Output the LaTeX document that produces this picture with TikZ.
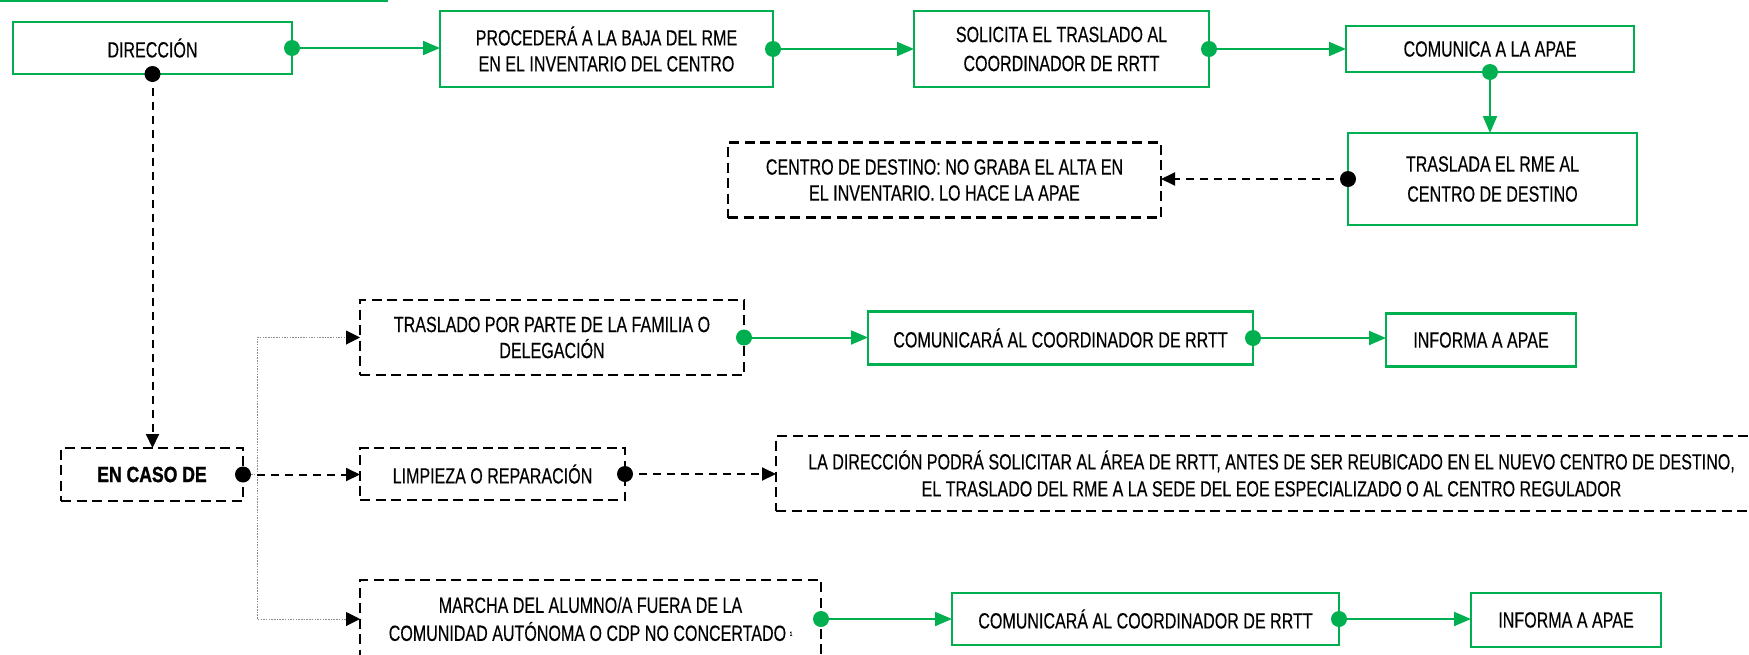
\documentclass[tikz,border=0pt]{standalone}
\usepackage{fontspec}
\setmainfont[FakeStretch=0.73,FakeBold=0.35]{Liberation Sans}
\newfontfamily\bcond[FakeStretch=0.8,FakeBold=1.2]{Liberation Sans}
\usetikzlibrary{arrows.meta}
\definecolor{gr}{HTML}{00B050}
\definecolor{dotgray}{HTML}{8C8C8C}
\begin{document}
\begin{tikzpicture}[x=1pt,y=-1pt,
  base/.style={rectangle,inner sep=0pt,outer sep=0pt,align=center,font=\fontsize{22}{26}\selectfont},
  gbox/.style={base,draw=gr,line width=2.8pt},
  dbox/.style={base,draw=black,line width=2.6pt,dash pattern=on 10pt off 5.5pt},
  garrow/.style={draw=gr,line width=2pt,-{Triangle[length=17pt,width=14pt]}},
  darrow/.style={draw=black,line width=2pt,dash pattern=on 8pt off 6pt,-{Triangle[length=14pt,width=13pt]}},
  parrow/.style={draw=dotgray,line width=1pt,dash pattern=on 1.5pt off 1.2pt,-{Triangle[length=14pt,width=14pt,fill=black,color=black]}},
  gdot/.style={circle,fill=gr,inner sep=0pt,minimum size=16pt},
  kdot/.style={circle,fill=black,inner sep=0pt,minimum size=16pt}]
\useasboundingbox (0,0) rectangle (1749,654);
\draw[gr,line width=1.6pt] (0,0.8) -- (388,0.8);
% top row
\node[gbox,minimum width=279pt,minimum height=52pt] (dir) at (152.5,48) {DIRECCIÓN};
\node[gbox,minimum width=333pt,minimum height=76pt] (proc) at (606.5,49) {PROCEDERÁ A LA BAJA DEL RME\\EN EL INVENTARIO DEL CENTRO};
\node[gbox,minimum width=295pt,minimum height=76pt,font=\fontsize{22}{29}\selectfont] (sol) at (1061.5,49) {SOLICITA EL TRASLADO AL\\COORDINADOR DE RRTT};
\node[gbox,minimum width=288pt,minimum height=46pt] (com) at (1490,49) {COMUNICA A LA APAE};
\node[gbox,minimum width=289pt,minimum height=92pt,font=\fontsize{22}{30}\selectfont] (tras) at (1492.5,179) {TRASLADA EL RME AL\\CENTRO DE DESTINO};
\node[dbox,minimum width=433pt,minimum height=75pt] (cen) at (944.5,180) {CENTRO DE DESTINO: NO GRABA EL ALTA EN\\EL INVENTARIO. LO HACE LA APAE};
% en caso de
\node[dbox,minimum width=182pt,minimum height=53pt,font=\bcond\bfseries\fontsize{22}{26}\selectfont] (caso) at (152,474.5) {EN CASO DE};
\node[dbox,minimum width=384pt,minimum height=75pt] (fam) at (552,337.5) {TRASLADO POR PARTE DE LA FAMILIA O\\DELEGACIÓN};
\node[dbox,minimum width=265pt,minimum height=52pt] (lim) at (492.5,474) {LIMPIEZA O REPARACIÓN};
\node[dbox,minimum width=991pt,minimum height=75pt,font=\fontsize{22}{27}\selectfont] (ladir) at (1271.5,473.5) {LA DIRECCIÓN PODRÁ SOLICITAR AL ÁREA DE RRTT, ANTES DE SER REUBICADO EN EL NUEVO CENTRO DE DESTINO,\\EL TRASLADO DEL RME A LA SEDE DEL EOE ESPECIALIZADO O AL CENTRO REGULADOR};
\node[dbox,minimum width=461pt,minimum height=78pt,font=\fontsize{22}{28}\selectfont] (mar) at (590.5,619) {MARCHA DEL ALUMNO/A FUERA DE LA\\COMUNIDAD AUTÓNOMA O CDP NO CONCERTADO\,{\fontsize{6}{6}\selectfont\raisebox{5pt}{1}}};
\node[gbox,minimum width=385pt,minimum height=53pt] (com2) at (1060.5,338) {COMUNICARÁ AL COORDINADOR DE RRTT};
\node[gbox,minimum width=190pt,minimum height=53pt] (inf2) at (1481,340) {INFORMA A APAE};
\node[gbox,minimum width=387pt,minimum height=52pt] (com4) at (1145.5,619) {COMUNICARÁ AL COORDINADOR DE RRTT};
\node[gbox,minimum width=190pt,minimum height=54pt] (inf4) at (1566,620) {INFORMA A APAE};
% connectors
\draw[garrow] (dir.east) -- (dir.east -| proc.west);
\draw[garrow] (proc.east) -- (proc.east -| sol.west);
\draw[garrow] (sol.east) -- (sol.east -| com.west);
\draw[garrow] (com.south) -- (com.south |- tras.north);
\draw[darrow] (tras.west) -- (tras.west -| cen.east);
\draw[darrow] (dir.south) -- (dir.south |- caso.north);
\draw[parrow] (caso.east) -- ++(14,0) |- (fam.west);
\draw[parrow] (caso.east) -- ++(14,0) |- (mar.west);
\draw[darrow] (caso.east) -- (caso.east -| lim.west);
\draw[darrow] (lim.east) -- (lim.east -| ladir.west);
\draw[garrow] (fam.east) -- (fam.east -| com2.west);
\draw[garrow] (com2.east) -- (com2.east -| inf2.west);
\draw[garrow] (mar.east) -- (mar.east -| com4.west);
\draw[garrow] (com4.east) -- (com4.east -| inf4.west);
% dots
\node[gdot] at (dir.east) {};
\node[kdot] at (dir.south) {};
\node[gdot] at (proc.east) {};
\node[gdot] at (sol.east) {};
\node[gdot] at (com.south) {};
\node[kdot] at (tras.west) {};
\node[kdot] at (caso.east) {};
\node[kdot] at (lim.east) {};
\node[gdot] at (fam.east) {};
\node[gdot] at (com2.east) {};
\node[gdot] at (mar.east) {};
\node[gdot] at (com4.east) {};
\end{tikzpicture}
\end{document}
